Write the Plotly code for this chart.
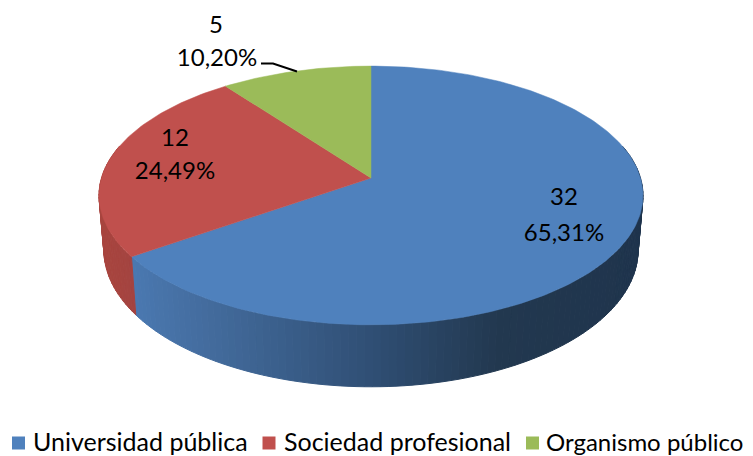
import math
import plotly.graph_objects as go

# ---- data ----
categories = ["Universidad pública", "Sociedad profesional", "Organismo público"]
values = [32, 12, 5]
percent_labels = ["65,31%", "24,49%", "10,20%"]

# ---- styles ----
top_colors = ["#4F81BD", "#C0504D", "#9BBB59"]
wall_stops = [
    [(132, "#4A78B0"), (200, "#446D9F"), (375, "#2F4E73"), (500, "#22384F"), (643, "#1F344D")],
    [(100, "#A8453F"), (136, "#A34340")],
    [(100, "#7F9A49"), (643, "#7F9A49")],
]
FONT = "Lato"
LABEL_SIZE = 24
legend_sizes = [25, 25, 24]

# ---- pie geometry (pixel space of the page) ----
CX, CY = 371.0, 178.0
A, B, K = 269.5, 127.0, 0.135
DEPTH, BOTTOM_SCALE = 53.6, 0.982
value_pos = [(564, 199), (175, 140), (216, 27)]
percent_pos = [(564, 235), (175, 173), (217, 60)]
leader_x, leader_y = [261, 273, 297], [63.5, 63.5, 71.5]
legend_marker_x = [18.5, 269, 532.5]
legend_text_x = [33, 284, 546]
legend_marker_y = 443
legend_text_y = 445
BODY_MARGIN = 8  # the page's body margin offsets the figure


def top_rim(deg):
    r = math.radians(deg)
    X, Y = math.sin(r), -math.cos(r)
    d = 1 - K * Y
    return CX + A * X / d, CY + B * Y / d, Y


def bottom_rim(deg):
    x, y, Y = top_rim(deg)
    return CX + (x - CX) * BOTTOM_SCALE, y + DEPTH / (1 - K * Y)


def hex_rgb(h):
    return [int(h[i:i + 2], 16) for i in (1, 3, 5)]


def wall_color(stops, x):
    if x <= stops[0][0]:
        return stops[0][1]
    for (x0, c0), (x1, c1) in zip(stops, stops[1:]):
        if x <= x1:
            f = (x - x0) / (x1 - x0)
            a, b = hex_rgb(c0), hex_rgb(c1)
            return "rgb(%d,%d,%d)" % tuple(round(p + (q - p) * f) for p, q in zip(a, b))
    return stops[-1][1]


def frange(a, b, step):
    n = max(1, int(math.ceil((b - a) / step)))
    return [a + (b - a) * i / n for i in range(n + 1)]


total = sum(values)
edges = [0.0]
for v in values:
    edges.append(edges[-1] + 360.0 * v / total)

fig = go.Figure()

# side walls (only the front half of the rim, 75..285 degrees)
for i in range(len(values)):
    a0, a1 = max(edges[i], 75.0), min(edges[i + 1], 285.0)
    if a1 <= a0:
        continue
    angs = frange(a0, a1, 1.5)
    for p, q in zip(angs, angs[1:]):
        t0, t1 = top_rim(p), top_rim(q)
        b0, b1 = bottom_rim(p), bottom_rim(q)
        col = wall_color(wall_stops[i], (t0[0] + t1[0]) / 2)
        fig.add_trace(go.Scatter(
            x=[t0[0], t1[0], b1[0], b0[0], t0[0]],
            y=[t0[1], t1[1], b1[1], b0[1], t0[1]],
            mode="lines", fill="toself", fillcolor=col,
            line=dict(color=col, width=1), showlegend=False, hoverinfo="skip"))

# top faces
for i, name in enumerate(categories):
    pts = [top_rim(a) for a in frange(edges[i], edges[i + 1], 1.0)]
    xs = [CX] + [p[0] for p in pts] + [CX]
    ys = [CY] + [p[1] for p in pts] + [CY]
    fig.add_trace(go.Scatter(
        x=xs, y=ys, mode="lines", fill="toself", fillcolor=top_colors[i],
        line=dict(color=top_colors[i], width=0.5), showlegend=False,
        name=name, hoverinfo="name"))

# legend row, placed entry by entry
for i, name in enumerate(categories):
    fig.add_trace(go.Scatter(
        x=[legend_marker_x[i]], y=[legend_marker_y], mode="markers", name=name,
        marker=dict(symbol="square", size=13, color=top_colors[i]),
        showlegend=False, hoverinfo="skip", cliponaxis=False))
    fig.add_trace(go.Scatter(
        x=[legend_text_x[i]], y=[legend_text_y], mode="text", name=name,
        text=[name], textposition="middle right",
        textfont=dict(family=FONT, size=legend_sizes[i], color="#000000"),
        showlegend=False, hoverinfo="skip", cliponaxis=False))

# leader line and labels
fig.add_trace(go.Scatter(x=leader_x, y=leader_y, mode="lines",
                         line=dict(color="#000000", width=2),
                         showlegend=False, hoverinfo="skip"))
for pos, texts in ((value_pos, [str(v) for v in values]), (percent_pos, percent_labels)):
    fig.add_trace(go.Scatter(
        x=[p[0] for p in pos], y=[p[1] for p in pos], mode="text", text=texts,
        textposition="middle center",
        textfont=dict(family=FONT, size=LABEL_SIZE, color="#000000"),
        showlegend=False, hoverinfo="skip"))

fig.update_layout(
    width=753 - BODY_MARGIN, height=456 - BODY_MARGIN, autosize=False,
    margin=dict(l=0, r=0, t=0, b=0),
    paper_bgcolor="white", plot_bgcolor="white",
    font=dict(family=FONT, color="#000000"),
    showlegend=False,
    xaxis=dict(range=[BODY_MARGIN, 753], visible=False, fixedrange=True),
    yaxis=dict(range=[456, BODY_MARGIN], visible=False, fixedrange=True),
)
fig.write_html("out.html", config={"displayModeBar": False})
